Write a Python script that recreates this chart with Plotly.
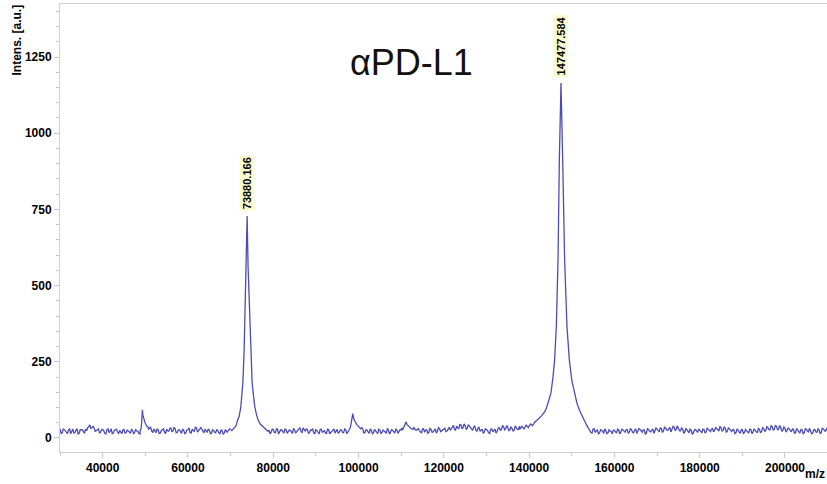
import plotly.graph_objects as go

# ---------------- data ----------------
base_start, base_stop, base_step = 30000, 210000, 500
# intensities at 30000, 30500, 31000, ... (one row per 10000 Da)
baseline_intensity = [
    30,16,28,19,27,14,29,18,31,15,26,20,29,33,43,35,33,24,30,19,   # 30000-
    28,15,27,18,30,16,26,19,25,14,28,17,24,15,26,18,23,15,26,30,   # 40000-
    46,36,31,22,30,17,28,16,27,19,29,22,33,24,30,18,27,15,25,17,   # 50000-
    27,18,29,22,33,24,34,23,29,18,26,15,25,17,24,14,25,16,23,17,   # 60000-
    25,30,38,52,90,200,700,420,160,85,55,42,35,28,30,20,27,16,26,18,  # 70000-
    28,17,29,20,26,16,28,19,25,15,27,20,31,22,33,23,28,17,25,16,   # 80000-
    27,17,28,19,24,15,27,18,25,16,28,19,26,17,27,22,30,60,55,44,   # 90000-
    38,30,29,18,26,15,25,17,23,14,26,18,24,15,27,19,25,16,26,20,   # 100000-
    27,30,40,52,44,37,34,25,31,21,29,19,27,18,28,20,30,22,31,23,   # 110000-
    29,21,32,25,36,28,39,31,43,34,41,32,39,29,36,26,32,22,29,19,   # 120000-
    27,17,28,20,29,22,34,27,38,30,35,27,32,25,35,28,37,30,41,33,   # 130000-
    38,45,60,70,90,150,260,600,1100,600,260,150,95,70,55,45,38,32,30,28,  # 140000-
    26,22,28,20,30,24,28,20,26,18,29,18,26,16,25,15,24,17,23,14,   # 150000-
    25,16,27,18,26,19,28,20,27,17,29,21,28,19,26,16,28,20,30,22,   # 160000-
    29,20,31,23,33,25,35,27,36,28,32,23,29,19,27,17,26,16,28,18,   # 170000-
    25,17,28,20,30,21,32,24,31,23,34,26,32,23,30,21,27,17,25,15,   # 180000-
    27,18,25,16,28,19,26,17,29,21,31,24,34,26,37,29,38,28,35,26,   # 190000-
    32,24,30,20,28,19,26,16,27,17,29,20,25,16,28,19,26,17,29,21,   # 200000-
    27,
]
# intensities at 30250, 30750, 31250, ... (the in-between noise samples)
baseline_mid_intensity = [
    15,29,24,14,30,22,16,25,13,28,27,15,24,41,30,38,22,29,17,27,   # 30000-
    24,13,30,22,14,25,29,15,21,27,16,26,20,28,14,27,22,13,28,36,   # 40000-
    40,28,36,18,25,29,15,24,30,14,23,31,20,35,17,26,21,30,14,26,   # 50000-
    33,16,24,35,19,28,29,17,22,30,14,27,19,28,16,26,12,27,18,28,   # 60000-
    18,28,33,60,120,400,600,250,120,70,50,40,30,25,22,24,21,22,14,29,  # 70000-
    18,30,13,27,22,29,15,26,20,31,16,24,34,17,25,29,16,26,31,14,   # 80000-
    24,13,29,23,16,29,14,22,30,21,15,27,18,30,14,25,40,65,50,40,   # 90000-
    26,34,16,27,20,30,14,28,19,29,15,26,20,31,13,27,21,29,15,27,   # 100000-
    33,24,48,48,40,35,29,28,25,16,30,26,15,31,19,27,16,34,21,27,   # 110000-
    32,23,35,29,41,26,33,44,30,46,28,44,35,25,40,22,35,27,16,30,   # 120000-
    25,15,30,23,16,33,25,40,27,41,24,36,23,40,28,39,25,43,31,37,   # 130000-
    40,50,65,80,120,200,400,900,900,400,200,120,80,60,50,40,35,30,28,26,  # 140000-
    24,25,24,25,27,26,24,23,21,16,30,24,14,27,22,30,14,27,21,26,   # 150000-
    18,29,14,30,22,27,15,31,19,26,15,31,22,27,13,30,22,26,15,33,   # 160000-
    22,33,18,35,27,30,20,38,25,40,23,34,16,31,22,29,13,27,23,30,   # 170000-
    21,29,16,33,24,28,20,35,27,37,22,36,18,34,26,28,14,30,22,27,   # 180000-
    15,28,22,29,14,30,23,31,17,34,22,37,27,40,25,42,27,41,22,36,   # 190000-
    19,33,24,30,14,31,21,28,14,30,23,32,14,27,20,31,15,33,23,32,   # 200000-
]

peak49_mz = [48800, 49000, 49150, 49310, 49450, 49700, 50000, 50300, 50700]
peak49_int = [24, 30, 50, 92, 74, 58, 48, 40, 35]

peak74_mz = [69300, 69800, 70300, 70800, 71300, 71630, 72000, 72400, 72650, 72880,
             73180, 73505, 73650, 73880, 74100, 74350, 74680, 75050, 75400, 75680,
             76100, 76460, 77000, 77500, 78000, 78500]
peak74_int = [22, 30, 24, 33, 40, 59, 70, 102, 140, 181,
              289, 454, 562, 728, 562, 454, 289, 181, 135, 102,
              75, 59, 45, 38, 30, 25]

peak99_mz = [97800, 98100, 98400, 98650, 98900, 99200, 99600, 100000, 100400]
peak99_int = [26, 35, 55, 80, 62, 52, 44, 38, 33]

peak111_mz = [110300, 110600, 110900, 111100, 111400, 111800, 112300, 112800]
peak111_int = [25, 33, 44, 53, 44, 38, 31, 28]

peak147_mz = [137800, 138300, 138800, 139300, 139800, 140300, 140800, 141300, 141900,
              142500, 143000, 143500, 143960, 144500, 145130, 145600, 145980, 146380,
              146780, 147090, 147477, 147870, 148330, 148880, 149430, 150000, 150610,
              151200, 151780, 152400, 152950, 153500, 154000]
peak147_int = [28, 38, 30, 42, 34, 46, 40, 52, 59,
               66, 74, 83, 94, 118, 148, 200, 257, 365,
               585, 914, 1165, 914, 585, 365, 257, 190, 148,
               115, 92, 72, 59, 42, 30]

label_mz = [73880, 147477]
label_int = [728, 1165]
label_text = ["73880.166", "147477.584"]

x_ticks = [40000, 60000, 80000, 100000, 120000, 140000, 160000, 180000, 200000]
y_ticks = [0, 250, 500, 750, 1000, 1250]

# ---------------- assemble spectrum ----------------
base_mz = list(range(base_start, base_stop + 1, base_step))
mid_mz = list(range(base_start + base_step // 2, base_stop, base_step))
peaks = [(peak49_mz, peak49_int), (peak74_mz, peak74_int), (peak99_mz, peak99_int),
         (peak111_mz, peak111_int), (peak147_mz, peak147_int)]
windows = [(min(m), max(m)) for m, _ in peaks]
pts = [(m, v) for m, v in list(zip(base_mz, baseline_intensity)) + list(zip(mid_mz, baseline_mid_intensity))
       if not any(lo <= m <= hi for lo, hi in windows)]
for m, v in peaks:
    pts += list(zip(m, v))
pts.sort()
mz = [p[0] for p in pts]
inten = [p[1] for p in pts]

FONT = "Liberation Sans, Arial, sans-serif"

fig = go.Figure()
fig.add_trace(go.Scatter(x=mz, y=inten, mode="lines",
                         line=dict(color="rgba(45,45,165,0.85)", width=1.3),
                         hoverinfo="skip"))

for xm, yi, t in zip(label_mz, label_int, label_text):
    fig.add_annotation(x=xm, y=yi, text=t, showarrow=False, textangle=-90,
                       xanchor="center", yanchor="bottom", yshift=5,
                       bgcolor="#fcfbd0", borderpad=1,
                       font=dict(family=FONT, size=11, color="black", weight="bold"))

fig.add_annotation(xref="paper", yref="paper", x=0.4577, y=0.8705, text="αPD-L1",
                   showarrow=False, xanchor="center", yanchor="middle",
                   font=dict(family=FONT, size=36, color="#111111"))
fig.add_annotation(xref="paper", yref="paper", x=-0.0565, y=0.92, text="Intens. [a.u.]",
                   showarrow=False, textangle=-90, xanchor="center", yanchor="middle",
                   font=dict(family=FONT, size=12, color="black", weight="bold"))
fig.add_annotation(xref="paper", yref="paper", x=1.0, y=-0.05, text="m/z",
                   showarrow=False, xanchor="right", yanchor="middle",
                   font=dict(family=FONT, size=12, color="black", weight="bold"))

fig.update_xaxes(range=[30000, 209850], tickvals=x_ticks, tickformat="d",
                 showgrid=False, zeroline=False, showline=True, linecolor="#cfcfcf",
                 linewidth=1, mirror=True, ticks="outside", ticklen=5, tickcolor="#c8c8c8",
                 tickfont=dict(family=FONT, size=12, color="black", weight="bold"),
                 minor=dict(dtick=10000, tick0=0, ticks="outside", ticklen=3,
                            tickcolor="#c8c8c8", showgrid=False))
fig.update_yaxes(range=[-46, 1424], tickvals=y_ticks, tickformat="d",
                 showgrid=False, zeroline=False, showline=True, linecolor="#cfcfcf",
                 linewidth=1, ticks="outside", ticklen=5, tickcolor="#c8c8c8",
                 tickfont=dict(family=FONT, size=12, color="black", weight="bold"),
                 minor=dict(dtick=50, tick0=0, ticks="outside", ticklen=3,
                            tickcolor="#c8c8c8", showgrid=False))

fig.update_layout(width=827, height=484, margin=dict(l=60, r=0, t=4, b=32),
                  paper_bgcolor="white", plot_bgcolor="white", showlegend=False)

fig.write_html("out.html")
